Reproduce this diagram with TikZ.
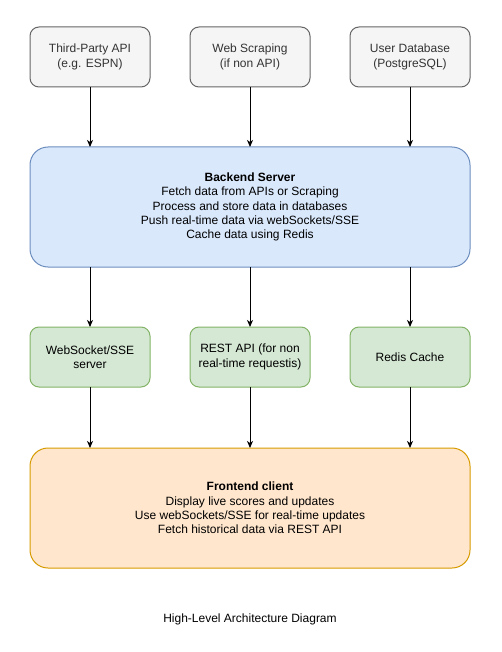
\documentclass[tikz,border=0pt]{standalone}
\usepackage{fontspec}
\setmainfont{Liberation Sans}
\usepackage{tikz}
\usetikzlibrary{arrows.meta,positioning,calc}
\definecolor{srcfill}{HTML}{F5F5F5}
\definecolor{srcline}{HTML}{666666}
\definecolor{srctext}{HTML}{333333}
\definecolor{backfill}{HTML}{DAE8FC}
\definecolor{backline}{HTML}{6C8EBF}
\definecolor{midfill}{HTML}{D5E8D4}
\definecolor{midline}{HTML}{82B366}
\definecolor{frontfill}{HTML}{FFE6CC}
\definecolor{frontline}{HTML}{D79B00}
\tikzset{
  smallbox/.style={rectangle, rounded corners=9pt, draw=#1line, fill=#1fill, line width=1pt,
                   align=center, font=\fontsize{12}{14.3}\selectfont,
                   minimum width=120pt, minimum height=60pt, outer sep=0pt},
  bigbox/.style={rectangle, rounded corners=18pt, draw=#1line, fill=#1fill, line width=1pt,
                 align=center, font=\fontsize{12}{14.3}\selectfont,
                 minimum width=440pt, minimum height=120pt, outer sep=0pt},
  arr/.style={-{Stealth[length=7pt,width=6pt,inset=2pt]}, line width=1pt, draw=black},
}
\begin{document}
\begin{tikzpicture}[x=1pt,y=-1pt, node distance=40pt]
    \useasboundingbox (0,0) rectangle (501,652);
    % data sources
    \node[smallbox=src, text=srctext] (thirdparty) at (90,57) {Third-Party API\\(e.g. ESPN)};
    \node[smallbox=src, text=srctext, right=of thirdparty] (scraping) {Web Scraping\\(if non API)};
    \node[smallbox=src, text=srctext, right=of scraping] (userdb) {User Database\\(PostgreSQL)};
    % server
    \node[bigbox=back, below=60pt of scraping] (backend)
      {\textbf{Backend Server}\\Fetch data from APIs or Scraping\\Process and store data in databases\\Push real-time data via webSockets/SSE\\Cache data using Redis};
    % services
    \node[smallbox=mid, below=60pt of backend] (restapi) {REST API (for non\\real-time requestis)};
    \node[smallbox=mid, left=of restapi] (wsserver) {WebSocket/SSE\\server};
    \node[smallbox=mid, right=of restapi] (redis) {Redis Cache};
    % client
    \node[bigbox=front, below=61pt of restapi] (frontend)
      {\textbf{Frontend client}\\Display live scores and updates\\Use webSockets/SSE for real-time updates\\Fetch historical data via REST API};
    \node[font=\fontsize{12}{14.3}\selectfont, below=42pt of frontend] (caption) {High-Level Architecture Diagram};
    \foreach \src/\dst in {thirdparty/backend, scraping/backend, userdb/backend}
      \draw[arr] (\src.south) -- (\src.south |- \dst.north);
    \foreach \dst in {wsserver, restapi, redis}
      \draw[arr] (\dst.north |- backend.south) -- (\dst.north);
    \foreach \src in {wsserver, restapi, redis}
      \draw[arr] (\src.south) -- (\src.south |- frontend.north);
  \end{tikzpicture}
\end{document}
